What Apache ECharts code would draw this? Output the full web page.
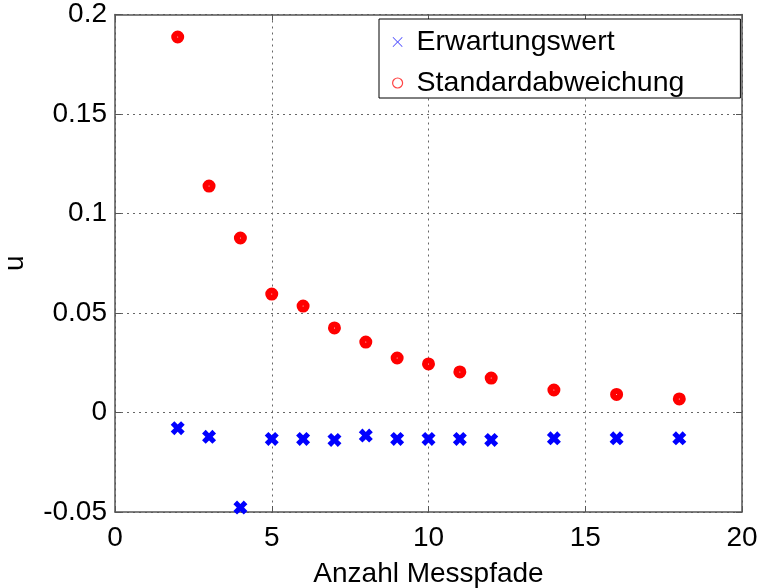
<!DOCTYPE html>
<html>
<head>
<meta charset="utf-8">
<script src="https://cdn.jsdelivr.net/npm/echarts@6/dist/echarts.min.js"></script>
<style>html,body{margin:0;padding:0;background:#fff;}#c{width:759px;height:588px;}</style>
</head>
<body>
<div id="c"></div>
<script>
var xValues = [2, 3, 4, 5, 6, 7, 8, 9, 10, 11, 12, 14, 16, 18];
var erwartungswert = [-0.0079, -0.0122, -0.0478, -0.0133, -0.0133, -0.0138, -0.0116, -0.0133, -0.0133, -0.0133, -0.0138, -0.0130, -0.0130, -0.0130];
var standardabweichung = [0.1887, 0.1138, 0.0877, 0.0595, 0.0535, 0.0425, 0.0354, 0.0274, 0.0244, 0.0204, 0.0173, 0.0113, 0.0091, 0.0068];
var seriesNames = ['Erwartungswert', 'Standardabweichung'];
var xAxisName = 'Anzahl Messpfade';
var yAxisName = 'u';

function pairs(xs, ys) { return xs.map(function (x, i) { return [x, ys[i]]; }); }

var FONT = 'Liberation Sans';
var thickX = 'path://M2.6,0 L5,2.4 L7.4,0 L10,2.6 L7.6,5 L10,7.4 L7.4,10 L5,7.6 L2.6,10 L0,7.4 L2.4,5 L0,2.6 Z';
var thinX = 'path://M0,0.6 L0.6,0 L5,4.4 L9.4,0 L10,0.6 L5.6,5 L10,9.4 L9.4,10 L5,5.6 L0.6,10 L0,9.4 L4.4,5 Z';
var axisColor = '#555';

var chart = echarts.init(document.getElementById('c'));
chart.setOption({
  animation: false,
  backgroundColor: '#fff',
  textStyle: { fontFamily: FONT },
  grid: { left: 115, right: 17, top: 14.5, bottom: 76, containLabel: false, outerBoundsMode: 'none' },
  legend: {
    orient: 'vertical',
    left: 379, top: 19,
    padding: [8, 56, 0, 13],
    itemGap: 11,
    itemWidth: 10, itemHeight: 10,
    itemTextGap: 15,
    backgroundColor: '#fff',
    borderColor: '#000', borderWidth: 1,
    textStyle: { fontFamily: FONT, fontSize: 28.5, color: '#000', lineHeight: 30, padding: [0, 0, 0, 9] },
    data: [
      { name: seriesNames[0], icon: thinX, itemStyle: { color: '#4444ff', borderWidth: 0 } },
      { name: seriesNames[1], icon: 'circle', itemStyle: { color: '#fff', borderColor: '#ff4444', borderWidth: 1.2 } }
    ]
  },
  xAxis: [{
    type: 'value', min: 0, max: 20, interval: 5, position: 'bottom',
    name: xAxisName, nameLocation: 'middle', nameGap: 48,
    nameTextStyle: { fontFamily: FONT, fontSize: 28, color: '#000' },
    axisLine: { show: true, onZero: false, lineStyle: { color: axisColor, width: 1.5 } },
    axisTick: { show: true, inside: true, length: 6, lineStyle: { color: axisColor } },
    axisLabel: { fontFamily: FONT, fontSize: 28, color: '#000', margin: 12 },
    splitLine: { show: true, lineStyle: { type: [2, 4], color: '#666', width: 1 } }
  }, {
    type: 'value', min: 0, max: 20, interval: 5, position: 'top',
    axisLine: { show: true, onZero: false, lineStyle: { color: axisColor, width: 1.5 } },
    axisTick: { show: true, inside: true, length: 6, lineStyle: { color: axisColor } },
    axisLabel: { show: false }, splitLine: { show: false }
  }],
  yAxis: [{
    type: 'value', min: -0.05, max: 0.2, interval: 0.05, position: 'left',
    name: yAxisName, nameLocation: 'middle', nameGap: 86, nameRotate: 90,
    nameTextStyle: { fontFamily: FONT, fontSize: 28, color: '#000' },
    axisLine: { show: true, onZero: false, lineStyle: { color: axisColor, width: 1.5 } },
    axisTick: { show: true, inside: true, length: 6, lineStyle: { color: axisColor } },
    axisLabel: { fontFamily: FONT, fontSize: 28, color: '#000', margin: 8,
      formatter: function (v) { return String(Math.round(v * 100) / 100); } },
    splitLine: { show: true, lineStyle: { type: [2, 4], color: '#666', width: 1 } }
  }, {
    type: 'value', min: -0.05, max: 0.2, interval: 0.05, position: 'right',
    axisLine: { show: true, onZero: false, lineStyle: { color: axisColor, width: 1.5 } },
    axisTick: { show: true, inside: true, length: 6, lineStyle: { color: axisColor } },
    axisLabel: { show: false }, splitLine: { show: false }
  }],
  series: [{
    name: seriesNames[0], type: 'scatter', xAxisIndex: 0, yAxisIndex: 0,
    data: pairs(xValues, erwartungswert),
    symbol: thickX, symbolSize: 14,
    itemStyle: { color: '#0000ff', opacity: 1 }
  }, {
    name: seriesNames[1], type: 'scatter', xAxisIndex: 0, yAxisIndex: 0,
    data: pairs(xValues, standardabweichung),
    symbol: 'circle', symbolSize: 7,
    itemStyle: { color: '#fff', borderColor: '#ff0000', borderWidth: 6, opacity: 1 }
  }]
});
</script>
</body>
</html>
